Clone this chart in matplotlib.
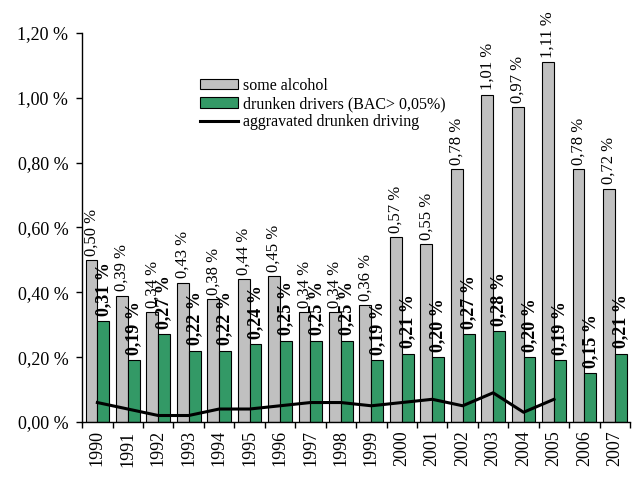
#! /usr/bin/env python
# -*- coding: utf-8 -*-

import matplotlib
matplotlib.use("Agg")
import matplotlib.pyplot as plt
import numpy as np

years = [str(y) for y in range(1990, 2008)]
some_alcohol = [0.50, 0.39, 0.34, 0.43, 0.38, 0.44, 0.45, 0.34, 0.34, 0.36,
                0.57, 0.55, 0.78, 1.01, 0.97, 1.11, 0.78, 0.72]
drunken = [0.31, 0.19, 0.27, 0.22, 0.22, 0.24, 0.25, 0.25, 0.25, 0.19,
           0.21, 0.20, 0.27, 0.28, 0.20, 0.19, 0.15, 0.21]
# aggravated drunken driving only runs 1990-2005
aggravated = [0.06, 0.04, 0.02, 0.02, 0.04, 0.04, 0.05, 0.06, 0.06, 0.05,
              0.06, 0.07, 0.05, 0.09, 0.03, 0.07]

plt.rcParams['font.family'] = ['Liberation Serif', 'DejaVu Serif']


def pct(v):
    return ("%.2f %%" % v).replace('.', ',')


fig = plt.figure(figsize=(6.32, 4.9), dpi=100)
ax = fig.add_axes([0.13, 0.1388, 0.867, 0.794])

x = np.arange(len(years))
w = 0.39
gray = ax.bar(x - w / 2, some_alcohol, w, color='#c0c0c0', edgecolor='black',
              linewidth=0.8, label='some alcohol', zorder=2)
green = ax.bar(x + w / 2, drunken, w, color='#339966', edgecolor='black',
               linewidth=0.8, label='drunken drivers (BAC> 0,05%)', zorder=2)
line, = ax.plot(x[:len(aggravated)], aggravated, color='black', linewidth=2.2,
                label='aggravated drunken driving', zorder=3)

# value labels, rotated like the original
for xi, v in zip(x, some_alcohol):
    ax.annotate(pct(v), (xi - w / 2, v), xytext=(0, 3), textcoords='offset points',
                rotation=90, ha='center', va='bottom', fontsize=12,
                annotation_clip=False, zorder=5)
for xi, v in zip(x, drunken):
    ax.annotate(pct(v), (xi + w / 2, v), xytext=(0, 4), textcoords='offset points',
                rotation=90, ha='center', va='bottom', fontsize=13,
                fontweight='bold', annotation_clip=False, zorder=5)

ax.set_xlim(-0.5, len(years) - 0.5)
ax.set_ylim(0, 1.2)
ax.set_yticks(np.arange(0, 1.21, 0.2))
ax.set_yticklabels([pct(t) for t in np.arange(0, 1.21, 0.2)], fontsize=13)
ax.set_xticks(x)
ax.set_xticklabels(years, rotation=90, fontsize=13)
ax.set_xticks(np.arange(-0.5, len(years), 1.0), minor=True)
ax.tick_params(axis='x', which='major', length=0, pad=6)
ax.tick_params(axis='x', which='minor', length=4, width=1, direction='out')
ax.tick_params(axis='y', length=4, width=1, direction='out', pad=6)

for s in ['top', 'right']:
    ax.spines[s].set_visible(False)
for s in ['left', 'bottom']:
    ax.spines[s].set_linewidth(1)

ax.legend(handles=[gray, green, line], loc='upper left',
          bbox_to_anchor=(0.215, 0.885), frameon=False,
          fontsize=11.5, handlelength=2.4, handleheight=0.6, handletextpad=0.3,
          labelspacing=0.15, borderpad=0, borderaxespad=0)

fig.savefig('out.png', dpi=100)
